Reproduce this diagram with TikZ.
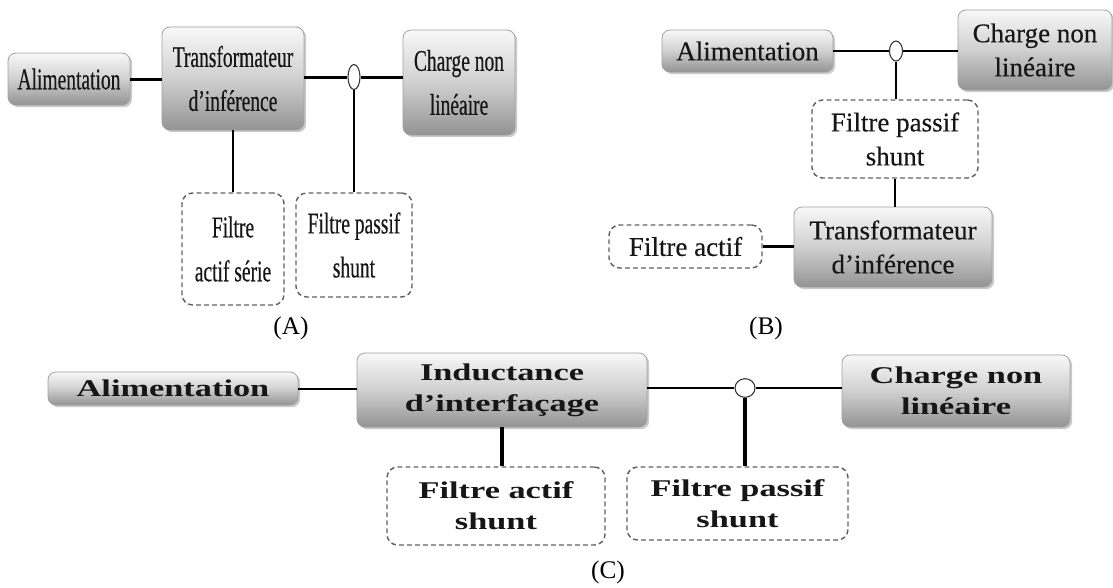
\documentclass[tikz,border=0pt]{standalone}
\usepackage{fontspec}
\setmainfont{Liberation Serif}
\newfontfamily\fontA{Liberation Serif}[FakeStretch=0.65, FakeBold=0.4]
\newfontfamily\fontB{Liberation Serif}[FakeBold=0.3]
\newfontfamily\fontCap{Liberation Serif}
\newfontfamily\fontC{Liberation Serif}[UprightFont=* Bold, FakeStretch=1.43]
\usetikzlibrary{shadows,shapes.geometric}

\definecolor{boxtop}{HTML}{F8F8F8}
\definecolor{boxmid}{HTML}{D0D0D0}
\definecolor{boxbot}{HTML}{939393}
\definecolor{boxedge}{HTML}{A0A0A0}
\definecolor{txt}{HTML}{161616}

\tikzset{
  graybox/.style={rectangle, rounded corners=6pt, draw=boxedge, line width=0.6pt,
    top color=boxtop, bottom color=boxbot, middle color=boxmid,
    drop shadow={shadow xshift=1.6pt, shadow yshift=-1.6pt, opacity=0.35, fill=black!60},
    align=center, inner sep=0pt, text=txt},
  dashbox/.style={rectangle, rounded corners=8pt, draw=black!62, line width=1.1pt,
    dash pattern=on 3.6pt off 2.4pt, fill=white, align=center, inner sep=0pt, text=txt},
  junction/.style={ellipse, draw=black!80, line width=0.8pt, fill=white, inner sep=0pt},
  wire/.style={draw=black, line width=#1},
  wire/.default=1.5pt,
  txtA/.style={font=\fontA\fontsize{22.5pt}{33pt}\selectfont},
  txtB/.style={font=\fontB\fontsize{20.25pt}{25.5pt}\selectfont},
  txtC/.style={font=\fontC\fontsize{18pt}{23.25pt}\selectfont},
  caption/.style={font=\fontCap\fontsize{19pt}{22pt}\selectfont, inner sep=0pt}
}

\begin{document}
\begin{tikzpicture}[x=0.75pt,y=-0.75pt]
\useasboundingbox (0,0) rectangle (1113,587);

% ---------- (A) ----------
\node[graybox, txtA, minimum width=91.5pt, minimum height=39pt] (alimA) at (69,79) {Alimentation};
\node[graybox, txtA, minimum width=106.5pt, minimum height=77.25pt] (trA) at (233,78.5) {Transformateur\\d’inférence};
\node[graybox, txtA, minimum width=84pt, minimum height=78.75pt] (chA) at (459,82.5) {Charge non\\linéaire};
\node[junction, minimum width=9pt, minimum height=18.75pt] (jA) at (354,77) {};
\node[dashbox, txtA, minimum width=76.5pt, minimum height=84pt] (faA) at (233,249) {Filtre\\actif série};
\node[dashbox, txtA, minimum width=87pt, minimum height=78pt] (fpA) at (354,245) {Filtre passif\\shunt};
\node[caption] (capA) at (291,328) {(A)};

\draw[wire=2.25pt] (alimA.east) -- (alimA.east -| trA.west);
\draw[wire=2.25pt] (trA.east |- jA.west) -- (jA.west);
\draw[wire=2.25pt] (jA.east) -- (jA.east -| chA.west);
\draw[wire=1.5pt] (trA.south) -- (faA.north);
\draw[wire=1.5pt] (jA.south) -- (fpA.north);

% ---------- (B) ----------
\node[graybox, txtB, minimum width=128.25pt, minimum height=31.5pt] (alimB) at (747.5,51) {Alimentation};
\node[graybox, txtB, minimum width=115.5pt, minimum height=60pt] (chB) at (1035,50) {Charge non\\linéaire};
\node[junction, minimum width=9.75pt, minimum height=15pt] (jB) at (896,51) {};
\node[dashbox, txtB, minimum width=124.5pt, minimum height=58.5pt] (fpB) at (895,139) {Filtre passif\\shunt};
\node[graybox, txtB, minimum width=148.5pt, minimum height=60pt] (trB) at (893,247) {Transformateur\\d’inférence};
\node[dashbox, txtB, minimum width=114.75pt, minimum height=32.25pt] (faB) at (685.5,246.5) {Filtre actif};
\node[caption] (capB) at (766,328) {(B)};

\draw[wire=1.8pt] (alimB.east) -- (jB.west);
\draw[wire=1.8pt] (jB.east) -- (jB.east -| chB.west);
\draw[wire=1.8pt] (jB.south) -- (jB.south |- fpB.north);
\draw[wire=2.2pt] (fpB.south) -- (fpB.south |- trB.north);
\draw[wire=1.8pt] (faB.east) -- (faB.east -| trB.west);

% ---------- (C) ----------
\node[graybox, txtC, minimum width=187.5pt, minimum height=24.75pt] (alimC) at (173,388.5) {Alimentation};
\node[graybox, txtC, minimum width=217.5pt, minimum height=55.5pt] (indC) at (502,390) {Inductance\\d’interfaçage};
\node[graybox, txtC, minimum width=171pt, minimum height=54pt] (chC) at (956,391) {Charge non\\linéaire};
\node[junction, minimum width=15pt, minimum height=14pt] (jC) at (745,388) {};
\node[dashbox, txtC, minimum width=163.5pt, minimum height=58.5pt] (faC) at (496,506) {Filtre actif\\shunt};
\node[dashbox, txtC, minimum width=165.75pt, minimum height=54.75pt] (fpC) at (737.5,503.5) {Filtre passif\\shunt};
\node[caption] (capC) at (608,572) {(C)};

\draw[wire=1.5pt] (alimC.east) -- (alimC.east -| indC.west);
\draw[wire=1.5pt] (indC.east |- jC.west) -- (jC.west);
\draw[wire=1.5pt] (jC.east) -- (jC.east -| chC.west);
\draw[wire=2.6pt] (indC.south) -- (indC.south |- faC.north);
\draw[wire=2.6pt] (jC.south) -- (jC.south |- fpC.north);

\end{tikzpicture}
\end{document}
